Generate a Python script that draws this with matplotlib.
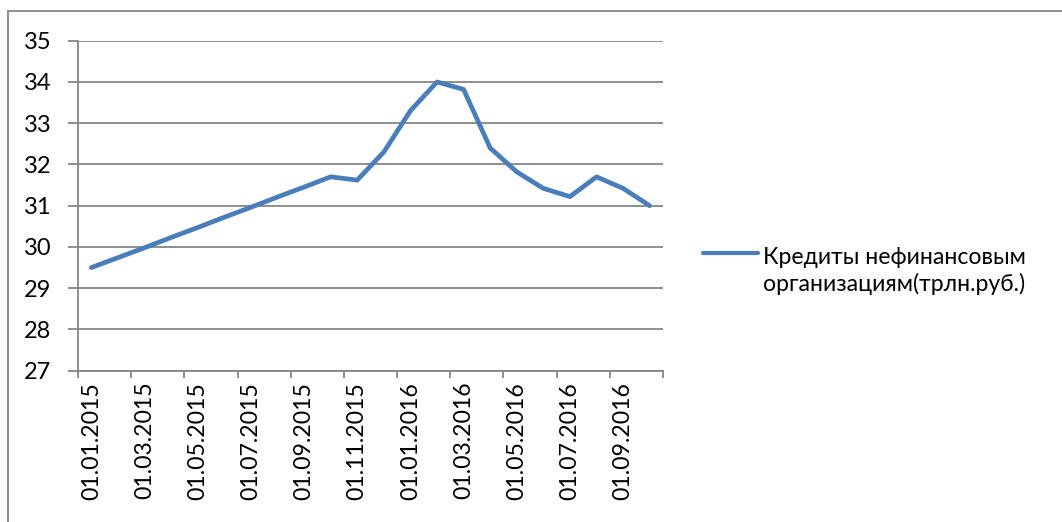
import matplotlib.pyplot as plt
from matplotlib.patches import Rectangle
import numpy as np

plt.rcParams['font.family'] = ['Lato', 'DejaVu Sans']

# monthly dates, 01.01.2015 .. 01.10.2016
dates = ['01.%02d.%d' % (m, y) for y in (2015, 2016) for m in range(1, 13)][:22]
credits = [29.5, 29.74, 29.98, 30.23, 30.47, 30.72, 30.96, 31.21, 31.45, 31.7,
           31.62, 32.3, 33.3, 34.0, 33.82, 32.4, 31.82, 31.42, 31.22, 31.7,
           31.42, 31.0]
series_name = 'Кредиты нефинансовым\nорганизациям(трлн.руб.)'
y_ticks = [27, 28, 29, 30, 31, 32, 33, 34, 35]

fig = plt.figure(figsize=(10.62, 5.22), dpi=100)
ax = fig.add_axes([78 / 1062, 1 - 370.7 / 522, 585 / 1062, 330 / 522])

grey = '#868686'
fs = 16.6
x = np.arange(len(credits))
ax.plot(x, credits, color='#4A7EBB', lw=3.4, solid_joinstyle='round',
        solid_capstyle='round', label=series_name, zorder=3)

ax.set_xlim(-0.5, len(credits) - 0.5)
ax.set_ylim(27, 35)
ax.set_yticks(y_ticks)
ax.yaxis.grid(True, color=grey, lw=1.3)
ax.set_axisbelow(True)

# tick marks at category boundaries, labels at every second category
ax.set_xticks(np.arange(-0.5, len(credits), 2))
ax.set_xticklabels([])
ax.set_xticks(x[::2], minor=True)
ax.set_xticklabels(dates[::2], minor=True, rotation=90)
ax.tick_params(axis='x', which='major', length=5, width=1.3, color=grey)
ax.tick_params(axis='x', which='minor', length=0, pad=8, labelsize=fs)
ax.tick_params(axis='y', length=7, width=1.3, color=grey, labelsize=17, pad=12)

for s in ('top', 'right'):
    ax.spines[s].set_visible(False)
for s in ('left', 'bottom'):
    ax.spines[s].set_color(grey)
    ax.spines[s].set_linewidth(1.3)

leg = fig.legend(loc='center left', bbox_to_anchor=(703 / 1062, 1 - 271 / 522),
                 frameon=False, fontsize=fs, handlelength=2.4,
                 handletextpad=0.2, borderpad=0, borderaxespad=0)
leg.get_texts()[0].set_linespacing(1.3)
# Excel puts the legend line level with the first text line
h = leg.legend_handles[0]
h.set_ydata(np.asarray(h.get_ydata()) + 13)
h.set_linewidth(3)

# outer chart-area border (cropped on the right and bottom)
fig.patches.append(Rectangle((8 / 1062, -0.1), 1.2, 1 - 11 / 522 + 0.1,
                             transform=fig.transFigure, fill=False,
                             edgecolor=grey, lw=1.3))

fig.savefig('out.png', dpi=100)
